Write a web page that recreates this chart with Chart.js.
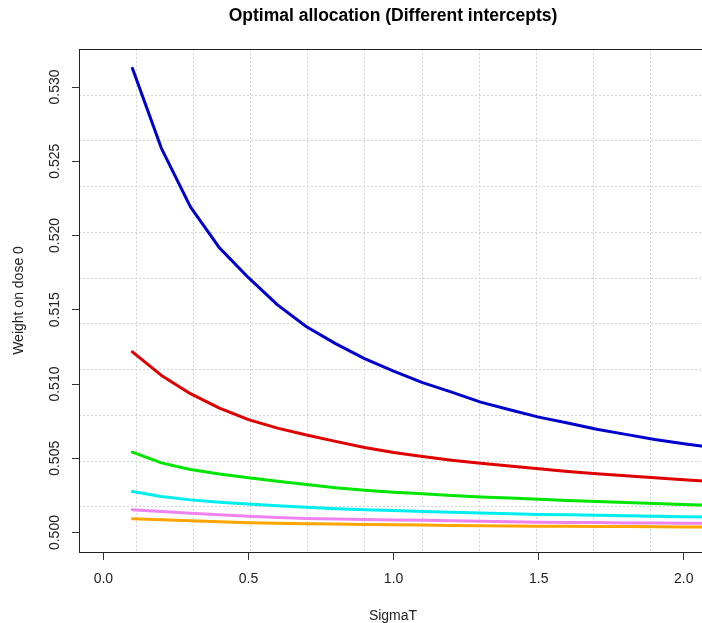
<!DOCTYPE html>
<html lang="en">
<head>
  <meta charset="UTF-8">
  <title>Optimal allocation (Different intercepts)</title>
  <script src="https://cdn.jsdelivr.net/npm/chart.js"></script>
  <style>
    html, body { margin: 0; padding: 0; background: #fff; overflow: hidden; }
    #wrap { width: 707px; height: 623px; }
  </style>
</head>
<body>
  <div id="wrap"><canvas id="allocChart" width="707" height="623"></canvas></div>

  <script>
    // SigmaT values the allocation was computed at
    const sigmaT = [0.1, 0.2, 0.3, 0.4, 0.5, 0.6, 0.7, 0.8, 0.9, 1.0,
                    1.1, 1.2, 1.3, 1.4, 1.5, 1.6, 1.7, 1.8, 1.9, 2.0, 2.1];

    // weight on dose 0, one series per intercept
    const wBlue   = [0.53126, 0.52587, 0.52193, 0.51917, 0.51716, 0.51533, 0.51386, 0.51272, 0.51171, 0.51087,
                     0.51010, 0.50946, 0.50878, 0.50827, 0.50777, 0.50737, 0.50696, 0.50661, 0.50627, 0.50598, 0.50572];
    const wRed    = [0.51216, 0.51058, 0.50935, 0.50838, 0.50760, 0.50703, 0.50657, 0.50614, 0.50573, 0.50539,
                     0.50512, 0.50487, 0.50467, 0.50448, 0.50429, 0.50411, 0.50396, 0.50382, 0.50369, 0.50355, 0.50343];
    const wGreen  = [0.50541, 0.50469, 0.50425, 0.50394, 0.50369, 0.50346, 0.50323, 0.50302, 0.50285, 0.50272,
                     0.50261, 0.50249, 0.50239, 0.50232, 0.50225, 0.50216, 0.50209, 0.50202, 0.50195, 0.50189, 0.50183];
    const wCyan   = [0.50276, 0.50243, 0.50220, 0.50204, 0.50192, 0.50181, 0.50171, 0.50161, 0.50154, 0.50148,
                     0.50142, 0.50137, 0.50131, 0.50126, 0.50122, 0.50119, 0.50116, 0.50113, 0.50110, 0.50106, 0.50104];
    const wViolet = [0.50153, 0.50141, 0.50130, 0.50120, 0.50110, 0.50101, 0.50095, 0.50091, 0.50088, 0.50085,
                     0.50082, 0.50079, 0.50076, 0.50073, 0.50070, 0.50068, 0.50067, 0.50065, 0.50064, 0.50063, 0.50062];
    const wOrange = [0.50093, 0.50086, 0.50079, 0.50072, 0.50066, 0.50062, 0.50059, 0.50057, 0.50054, 0.50052,
                     0.50050, 0.50048, 0.50046, 0.50044, 0.50043, 0.50042, 0.50041, 0.50040, 0.50039, 0.50038, 0.50037];

    // axis ticks
    const xTicks = [0, 0.5, 1.0, 1.5, 2.0];
    const yTicks = [0.500, 0.505, 0.510, 0.515, 0.520, 0.525, 0.530];

    const series = [
      { values: wBlue,   color: '#0000cd' },
      { values: wRed,    color: '#e00000' },
      { values: wGreen,  color: '#00e600' },
      { values: wCyan,   color: '#00eeee' },
      { values: wViolet, color: '#ee82ee' },
      { values: wOrange, color: '#ffa500' },
    ];

    const X_MIN = -0.084, X_MAX = 2.08;
    const Y_MIN = 0.49869, Y_MAX = 0.53256;
    const GRID_CELLS = 11;
    const FONT = '"Liberation Sans", Arial, sans-serif';
    const INK = '#222';

    Chart.defaults.font.family = FONT;
    Chart.defaults.color = INK;

    // base-graphics look: dotted grid, box, rotated y labels, title over the plot region
    const basePlot = {
      id: 'basePlot',
      beforeDatasetsDraw(chart) {
        const { ctx, chartArea: a, scales: { x, y } } = chart;
        ctx.save();
        ctx.strokeStyle = '#d3d3d3';
        ctx.lineWidth = 1;
        ctx.setLineDash([2, 2]);
        for (let k = 1; k < GRID_CELLS; k++) {
          const px = Math.round(x.getPixelForValue(X_MIN + k * (X_MAX - X_MIN) / GRID_CELLS)) + 0.5;
          ctx.beginPath(); ctx.moveTo(px, a.top); ctx.lineTo(px, a.bottom); ctx.stroke();
          const py = Math.round(y.getPixelForValue(Y_MIN + k * (Y_MAX - Y_MIN) / GRID_CELLS)) + 0.5;
          ctx.beginPath(); ctx.moveTo(a.left, py); ctx.lineTo(a.right, py); ctx.stroke();
        }
        ctx.restore();
      },
      afterDraw(chart) {
        const { ctx, chartArea: a, scales: { y } } = chart;
        ctx.save();
        // frame
        ctx.strokeStyle = INK;
        ctx.lineWidth = 1;
        ctx.strokeRect(Math.round(a.left) + 0.5, Math.round(a.top) + 0.5,
                       Math.round(a.right - a.left), Math.round(a.bottom - a.top));
        // y tick labels, parallel to the axis
        ctx.fillStyle = INK;
        ctx.font = '14px ' + FONT;
        ctx.textAlign = 'center';
        ctx.textBaseline = 'middle';
        yTicks.forEach(v => {
          ctx.save();
          ctx.translate(55, y.getPixelForValue(v));
          ctx.rotate(-Math.PI / 2);
          ctx.fillText(v.toFixed(3), 0, 0);
          ctx.restore();
        });
        // main title
        ctx.font = 'bold 17.5px ' + FONT;
        ctx.fillStyle = '#000';
        ctx.fillText('Optimal allocation (Different intercepts)', (a.left + a.right) / 2, 16);
        ctx.restore();
      }
    };

    const ctx = document.getElementById('allocChart').getContext('2d');
    new Chart(ctx, {
      type: 'line',
      data: {
        datasets: series.map(s => ({
          data: s.values.map((v, i) => ({ x: sigmaT[i], y: v })),
          borderColor: s.color,
          borderWidth: 3,
          borderJoinStyle: 'round',
          borderCapStyle: 'round',
          pointRadius: 0,
          tension: 0,
          fill: false,
        })),
      },
      options: {
        responsive: false,
        animation: false,
        devicePixelRatio: 1,
        layout: { padding: { top: 49, left: 0, right: 0, bottom: 0 } },
        plugins: {
          legend: { display: false },
          tooltip: { enabled: false },
          title: { display: false },
        },
        scales: {
          x: {
            type: 'linear',
            min: X_MIN,
            max: X_MAX,
            afterBuildTicks: scale => { scale.ticks = xTicks.map(v => ({ value: v })); },
            afterFit: scale => { scale.height = 71; },
            ticks: {
              callback: v => v.toFixed(1),
              font: { size: 14 },
              color: INK,
              padding: 11,
              maxRotation: 0,
              autoSkip: false,
            },
            grid: { drawOnChartArea: false, drawTicks: true, tickLength: 8, color: '#333' },
            border: { display: false },
            title: { display: true, text: 'SigmaT', font: { size: 14, lineHeight: 1 }, color: INK, padding: { top: 0, bottom: 0 } },
          },
          y: {
            type: 'linear',
            min: Y_MIN,
            max: Y_MAX,
            afterBuildTicks: scale => { scale.ticks = yTicks.map(v => ({ value: v })); },
            afterFit: scale => { scale.width = 79; },
            ticks: { display: false },
            grid: { drawOnChartArea: false, drawTicks: true, tickLength: 7, color: '#333' },
            border: { display: false },
            title: { display: true, text: 'Weight on dose 0', font: { size: 14 }, color: INK, padding: { top: 11, bottom: 0 } },
          },
        },
      },
      plugins: [basePlot],
    });
  </script>
</body>
</html>
